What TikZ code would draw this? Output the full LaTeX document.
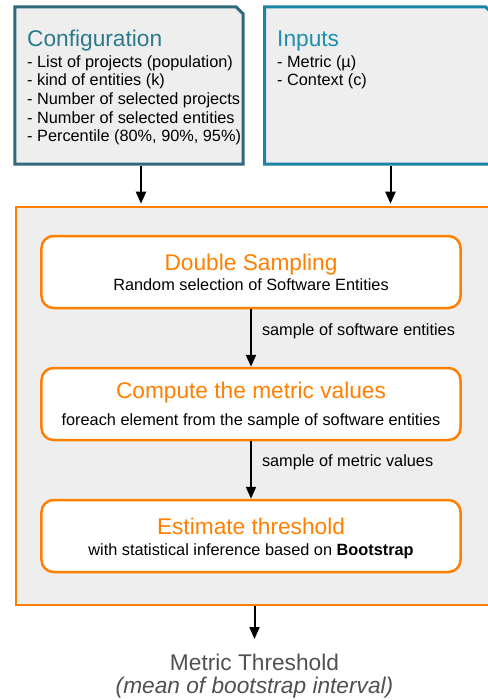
\documentclass[tikz,border=0pt]{standalone}
\usepackage{fontspec}
\setmainfont{Liberation Sans}
\usetikzlibrary{arrows.meta,shapes.misc}
\definecolor{cfgline}{HTML}{2E6A7C}
\definecolor{cfgtitle}{HTML}{2B7A8C}
\definecolor{inline}{HTML}{1A85A5}
\definecolor{intitle}{HTML}{1F8FB0}
\definecolor{orng}{HTML}{FF8000}
\definecolor{bggray}{HTML}{EEEEEE}
\definecolor{resgray}{HTML}{505050}

\begin{document}
\begin{tikzpicture}[x=1bp,y=-1bp,>={Triangle[width=10bp,length=12bp]},
  big/.style={font=\fontsize{22.7bp}{24bp}\selectfont},
  small/.style={font=\fontsize{16.3bp}{18.7bp}\selectfont},
  inbox/.style={chamfered rectangle,chamfered rectangle corners=north east,
    chamfered rectangle sep=9bp,line width=3bp,fill=bggray,
    minimum width=228bp,minimum height=157bp},
  stepbox/.style={draw=orng,line width=2.5bp,fill=white,rounded corners=12bp,
    minimum width=419bp,minimum height=72bp},
  flow/.style={->,line width=2bp}]
			\clip (0,0) rectangle (488,700);
			\node[inbox,draw=cfgline] (config) at (129,85.5) {};
			\node[inbox,draw=inline] (inputs) at (378.5,85.5) {};
			\node[big,text=cfgtitle,anchor=base west,inner sep=0] (cfgtitle) at (27,47) {Configuration};
			\node[small,align=left,anchor=north west,inner sep=0] (cfglist) at (27,55) {- List of projects (population)\\
			- kind of entities (k)\\
			- Number of selected projects\\
			- Number of selected entities\\
			- Percentile (80\%, 90\%, 95\%)};
			\node[big,text=intitle,anchor=base west,inner sep=0] (intitle) at (277,47) {Inputs};
			\node[small,align=left,anchor=north west,inner sep=0] (inlist) at (277,55) {- Metric (µ)\\
			- Context (c)};
			\node[draw=orng,line width=2.5bp,fill=bggray,minimum width=494bp,minimum height=398bp] (frame) at (263,406) {};
			\draw[flow,shorten >=2bp] ([xshift=12bp]config.south) -- ([xshift=12bp]config.south |- frame.north);
			\draw[flow,shorten >=2bp] ([xshift=12bp]inputs.south) -- ([xshift=12bp]inputs.south |- frame.north);
			\node[stepbox] (ds) at (251,272) {};
			\node[big,text=orng,anchor=base] (dstitle) at (251,270) {Double Sampling};
			\node[small,anchor=base] (dstext) at (251,290) {Random selection of Software Entities};
			\node[stepbox] (cmp) at (251,404) {};
			\node[big,text=orng,anchor=base] (cmptitle) at (251,398) {Compute the metric values};
			\node[small,anchor=base] (cmptext) at (251,425) {foreach element from the sample of software entities};
			\node[stepbox] (est) at (251,536) {};
			\node[big,text=orng,anchor=base] (esttitle) at (251,534) {Estimate threshold};
			\node[small,anchor=base] (esttext) at (251,555) {with statistical inference based on \textbf{Bootstrap}};
			\draw[flow] (ds) -- (cmp) node[small,midway,right=10bp,inner sep=0,yshift=7bp] {sample of software entities};
			\draw[flow] (cmp) -- (est) node[small,midway,right=10bp,inner sep=0,yshift=8bp] {sample of metric values};
			\node[big,text=resgray,anchor=base] (result) at (254.5,670) {Metric Threshold};
			\node[big,text=resgray,anchor=base] (resnote) at (254.5,693.5) {\itshape (mean of bootstrap interval)};
			\draw[flow,shorten >=11bp] (result.north |- frame.south) -- (result.north);
		\end{tikzpicture}
\end{document}
